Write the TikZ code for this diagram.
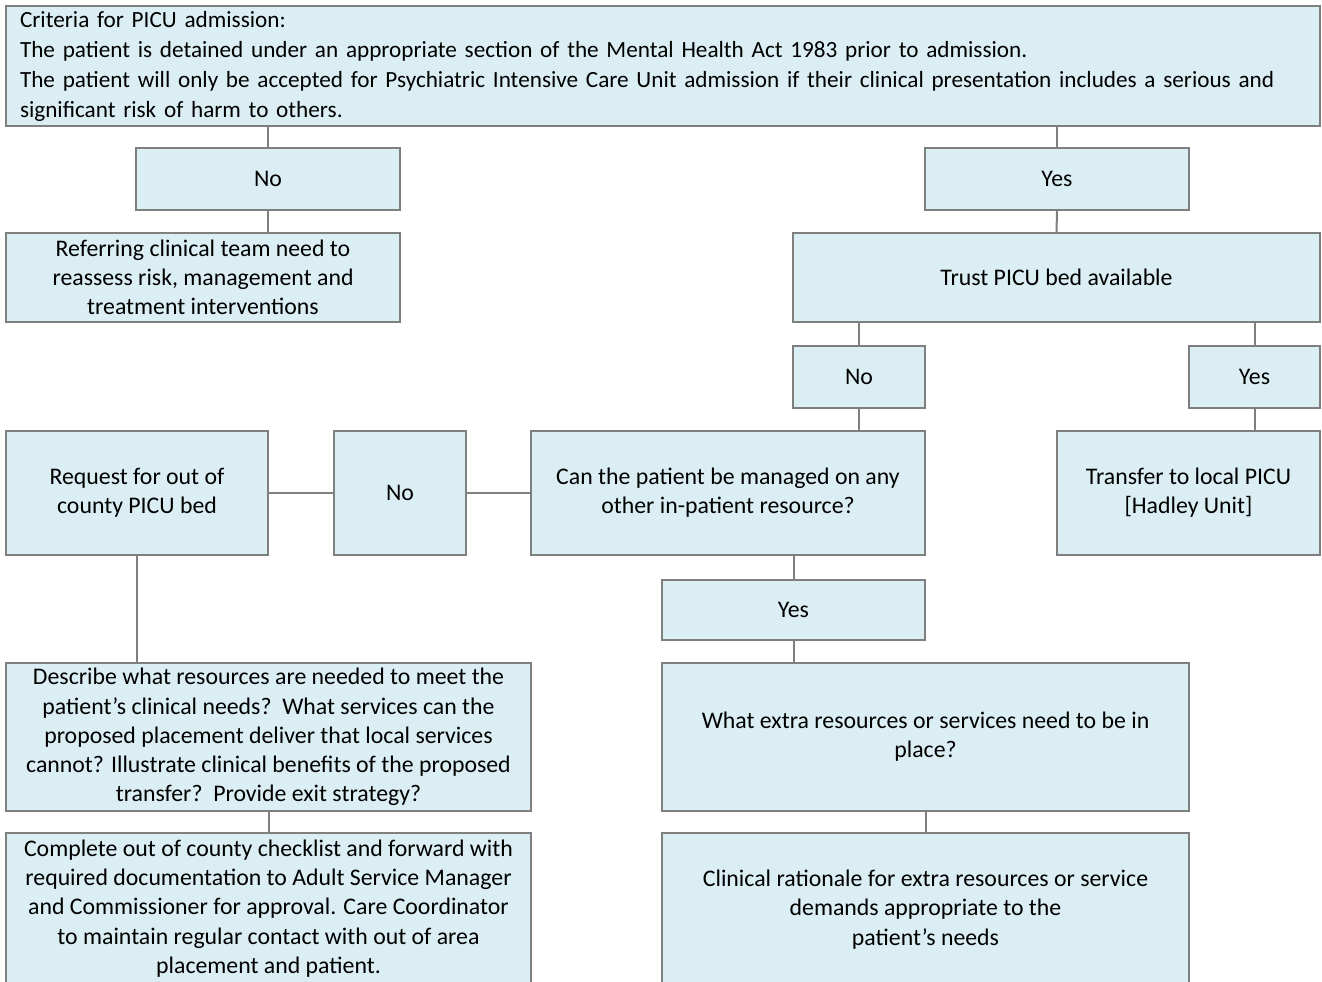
\documentclass[tikz,border=0pt]{standalone}
\usepackage{fontspec}
\setmainfont{Carlito}
\usetikzlibrary{positioning,calc,backgrounds}
\definecolor{boxfill}{HTML}{DAEEF3}
\definecolor{boxline}{HTML}{7F7F7F}
\tikzset{
  pbox/.style={draw=boxline,fill=boxfill,line width=1pt,inner sep=0pt,outer sep=0pt,
    align=center,font=\fontsize{11.9}{14.6}\selectfont},
  plink/.style={draw=boxline,line width=1pt}
}
% box from corner (x1,y1) to (x2,y2), in pixels
\newcommand{\mnode}[7][]{
  \node [pbox,minimum width={(#4-#2)*0.5pt},minimum height={(#5-#3)*0.5pt},#1]
    (#7) at ({(#2+#4)/2},{(#3+#5)/2}) {#6};
}

\begin{document}
\begin{tikzpicture}[x=0.5pt,y=-0.5pt]
  \useasboundingbox (0,0) rectangle (1322,981);
  \clip (0,0) rectangle (1322,981);

  \mnode[align=left,text width=643pt,inner xsep=7pt,font=\fontsize{11.6}{15}\selectfont]{6}{6}{1320}{126}{Criteria for PICU admission:\\
    The patient is detained under an appropriate section of the Mental Health Act 1983 prior to admission.\\
    The patient will only be accepted for Psychiatric Intensive Care Unit admission if their clinical presentation includes a serious and\\
    significant risk of harm to others.}{crit}

  \mnode{136}{148}{400}{210}{No}{noa}
  \mnode{6}{233}{400}{322}{Referring clinical team need to\\reassess risk, management and\\treatment interventions}{refer}

  \mnode{925}{148}{1189}{210}{Yes}{yesa}
  \mnode{793}{233}{1320}{322}{Trust PICU bed available}{trust}
  \mnode{793}{346}{925}{408}{No}{nob}
  \mnode{1189}{346}{1320}{408}{Yes}{yesb}
  \mnode{1057}{431}{1320}{555}{Transfer to local PICU\\{[Hadley Unit]}}{transfer}

  \mnode{531}{431}{925}{555}{Can the patient be managed on any\\other in-patient resource?}{manage}
  \mnode{334}{431}{466}{555}{No}{noc}
  \mnode{6}{431}{268}{555}{Request for out of\\county PICU bed}{request}
  \mnode{662}{580}{925}{640}{Yes}{yesc}

  \mnode{6}{663}{531}{811}{Describe what resources are needed to meet the\\
    patient’s clinical needs?\ \ What services can the\\
    proposed placement deliver that local services\\
    cannot? Illustrate clinical benefits of the proposed\\
    transfer?\ \ Provide exit strategy?}{describe}
  \mnode{6}{833}{531}{984}{Complete out of county checklist and forward with\\
    required documentation to Adult Service Manager\\
    and Commissioner for approval. Care Coordinator\\
    to maintain regular contact with out of area\\
    placement and patient.}{complete}

  \mnode{662}{663}{1189}{811}{What extra resources or services need to be in\\place?}{extra}
  \mnode{662}{833}{1189}{986}{Clinical rationale for extra resources or service\\demands appropriate to the\\patient’s needs}{rationale}

  % connectors
  \draw [plink] (noa.north) -- (noa.north |- crit.south);
  \draw [plink] (noa.south) -- (noa.south |- refer.north);
  \draw [plink] (yesa.north) -- (yesa.north |- crit.south);
  \draw [plink] (yesa.south) -- (trust.north);
  \draw [plink] (nob.north) -- (nob.north |- trust.south);
  \draw [plink] (yesb.north) -- (yesb.north |- trust.south);
  \draw [plink] (yesb.south) -- (yesb.south |- transfer.north);
  \draw [plink] (nob.south) -- (nob.south |- manage.north);
  \draw [plink] (manage.west) -- (noc.east);
  \draw [plink] (noc.west) -- (request.east);
  \draw [plink] (yesc.north) -- (yesc.north |- manage.south);
  \draw [plink] (request.south) -- (request.south |- describe.north);
  \draw [plink] (describe.south) -- (complete.north);
  \draw [plink] (yesc.south) -- (yesc.south |- extra.north);
  \draw [plink] (extra.south) -- (rationale.north);
\end{tikzpicture}
\end{document}
